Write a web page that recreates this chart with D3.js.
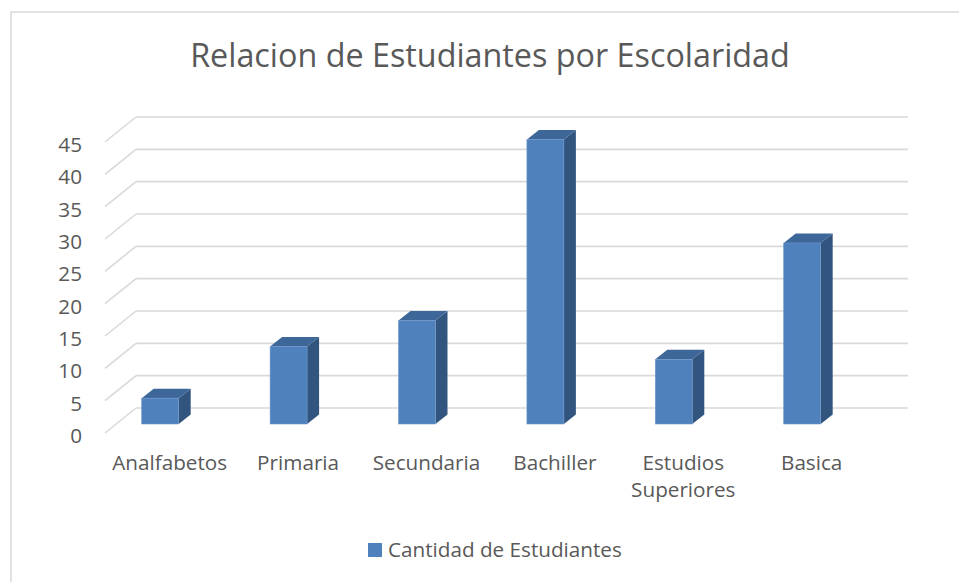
<!DOCTYPE html>
<html>
<head>
<meta charset="utf-8">
<script src="https://cdn.jsdelivr.net/npm/d3@7"></script>
<style>
  html, body { margin: 0; padding: 0; background: #ffffff; }
  svg { display: block; }
  text { font-family: "Open Sans", Lato, sans-serif; fill: #595959; }
</style>
</head>
<body>
<svg id="chart" width="959" height="582"></svg>
<script>
const title = "Relacion de Estudiantes por Escolaridad";
const categories = [["Analfabetos"], ["Primaria"], ["Secundaria"], ["Bachiller"], ["Estudios", "Superiores"], ["Basica"]];
const values = [4, 12, 16, 44, 10, 28];
const seriesName = "Cantidad de Estudiantes";
const yTicks = [0, 5, 10, 15, 20, 25, 30, 35, 40, 45];

const svg = d3.select("#chart");

// fit a text selection's font size so that a sample text reaches a target width
function fitSize(sel, targetWidth, base) {
  const node = sel.node();
  const w = node.getComputedTextLength();
  const size = w > 0 ? base * targetWidth / w : base;
  return size;
}

// chart frame
svg.append("rect")
  .attr("x", 11).attr("y", 12).attr("width", 960).attr("height", 600)
  .attr("fill", "#ffffff").attr("stroke", "#d9d9d9").attr("stroke-width", 1.5);

// title
const titleText = svg.append("text")
  .attr("x", 490).attr("y", 67)
  .attr("text-anchor", "middle")
  .style("font-size", "30px")
  .text(title);
titleText.style("font-size", fitSize(titleText, 600, 30) + "px");

// scales (back wall)
const yBack = d3.scaleLinear().domain([0, 45]).range([408, 117]);
const wallLeft = 136, wallRight = 908;
const depthDx = 31, depthDy = 25;      // front-to-back offset of floor/side wall
const barFrontOffset = 16;             // bar front face base lies 16px below back wall
const barDx = 12, barDy = 9.5;         // bar depth

const x = d3.scaleBand()
  .domain(categories.map(c => c.join(" ")))
  .range([96, 866.4])
  .paddingInner(0).paddingOuter(0);
const barW = x.bandwidth() * 0.288;

// gridlines: back wall horizontals + side diagonals
const grid = svg.append("g").attr("stroke", "#d9d9d9").attr("stroke-width", 1.6).attr("fill", "none");
yTicks.forEach(t => {
  const yb = yBack(t);
  grid.append("line")
    .attr("x1", wallLeft).attr("x2", wallRight)
    .attr("y1", yb).attr("y2", yb);
  grid.append("line")
    .attr("x1", wallLeft - depthDx).attr("y1", yb + depthDy)
    .attr("x2", wallLeft).attr("y2", yb);
});

// measure label font size: "Analfabetos" spans ~115px in the reference
const probe = svg.append("text").style("font-size", "18px").text(categories[0][0]);
const labelSize = fitSize(probe, 115, 18);
probe.remove();

// y-axis labels
svg.append("g").selectAll("text")
  .data(yTicks).join("text")
  .attr("x", 82)
  .attr("y", d => yBack(d) + depthDy + 2)
  .attr("text-anchor", "end")
  .attr("dominant-baseline", "central")
  .style("font-size", labelSize + "px")
  .text(d => d);

// bars (3D)
const fillFront = "#4f81bd", fillTop = "#3d6699", fillSide = "#32557f";
const bars = svg.append("g");
categories.forEach((c, i) => {
  const key = c.join(" ");
  const cx = x(key) + x.bandwidth() / 2;
  const x0 = cx - barW / 2, x1 = cx + barW / 2;
  const yb = yBack(0) + barFrontOffset;
  const yt = yBack(values[i]) + barFrontOffset;
  const g = bars.append("g");
  g.append("path")
    .attr("d", `M${x1},${yt} L${x1 + barDx},${yt - barDy} L${x1 + barDx},${yb - barDy} L${x1},${yb} Z`)
    .attr("fill", fillSide);
  g.append("path")
    .attr("d", `M${x0},${yt} L${x0 + barDx},${yt - barDy} L${x1 + barDx},${yt - barDy} L${x1},${yt} Z`)
    .attr("fill", fillTop);
  g.append("rect")
    .attr("x", x0).attr("y", yt)
    .attr("width", barW).attr("height", yb - yt)
    .attr("fill", fillFront)
    .attr("stroke", "#6f97c9").attr("stroke-width", 0.6);
});

// category labels
const labels = svg.append("g");
categories.forEach((c, i) => {
  const key = c.join(" ");
  const cx = x(key) + x.bandwidth() / 2 + 9.5;
  const t = labels.append("text")
    .attr("x", cx).attr("y", 470)
    .attr("text-anchor", "middle")
    .style("font-size", labelSize + "px");
  c.forEach((line, j) => {
    t.append("tspan").attr("x", cx).attr("dy", j === 0 ? 0 : 27).text(line);
  });
});

// legend
const legend = svg.append("g");
legend.append("rect")
  .attr("x", 368).attr("y", 543).attr("width", 14).attr("height", 14)
  .attr("fill", fillFront);
const legText = legend.append("text")
  .attr("x", 388).attr("y", 557)
  .style("font-size", "18px")
  .text(seriesName);
legText.style("font-size", fitSize(legText, 234, 18) + "px");
</script>
</body>
</html>
